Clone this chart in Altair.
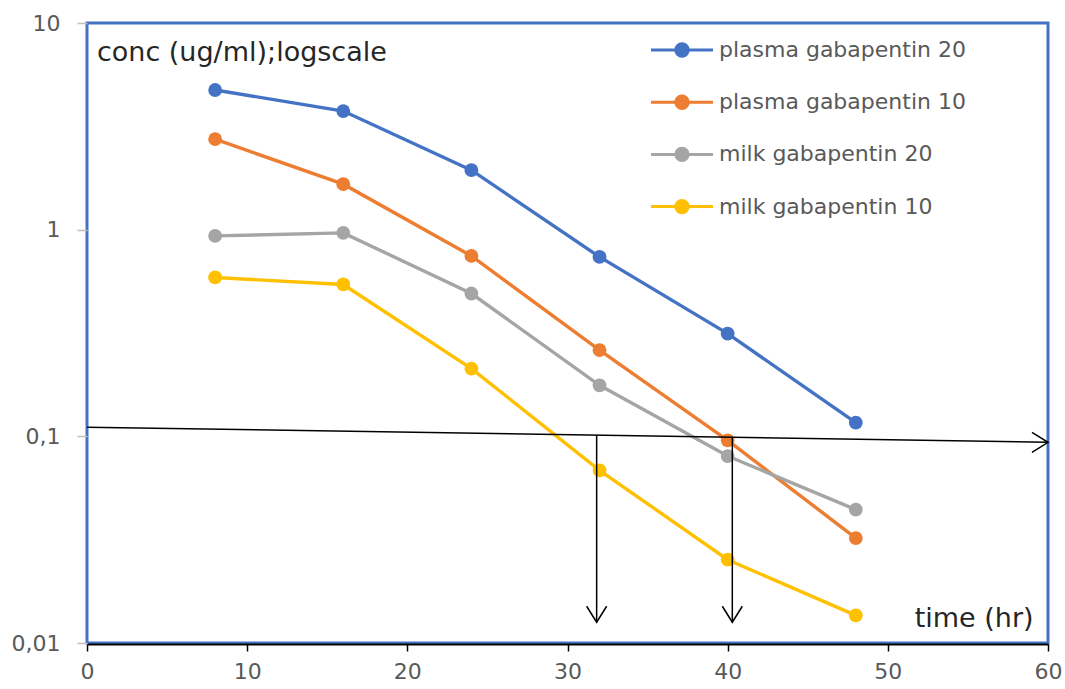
import altair as alt
import pandas as pd

# ---- data ----
hours = [8, 16, 24, 32, 40, 48]
series_names = ["plasma gabapentin 20", "plasma gabapentin 10",
                "milk gabapentin 20", "milk gabapentin 10"]
plasma_20 = [4.74, 3.75, 1.94, 0.738, 0.314, 0.1165]
plasma_10 = [2.74, 1.66, 0.746, 0.261, 0.0956, 0.0322]
milk_20 = [0.933, 0.965, 0.491, 0.1766, 0.0803, 0.0442]
milk_10 = [0.587, 0.543, 0.2128, 0.0685, 0.0253, 0.0136]
series_colors = ["#4472C4", "#ED7D31", "#A5A5A5", "#FFC000"]

x_ticks = [0, 10, 20, 30, 40, 50, 60]
y_ticks = [0.01, 0.1, 1, 10]
y_tick_labels = ["0,01", "0,1", "1", "10"]

# hand-drawn annotation arrows (data coordinates)
arrow_x = [0, 31.82, 40.29]
arrow_x2 = [60, 31.82, 40.29]
arrow_y = [0.1107, 0.1012, 0.0994]
arrow_y2 = [0.0936, 0.0126, 0.0126]
arrow_dir = ["right", "down", "down"]

note_texts = ["conc (ug/ml);logscale", "time (hr)"]
note_x = [0.62, 59.1]
note_y = [6.55, 0.0119]

# ---- tables ----
values = [plasma_20, plasma_10, milk_20, milk_10]
rows = []
for name, vals in zip(series_names, values):
    for t, v in zip(hours, vals):
        rows.append({"time": t, "series": name, "conc": v})
df = pd.DataFrame(rows)

arrows = pd.DataFrame({"x": arrow_x, "x2": arrow_x2, "y": arrow_y,
                       "y2": arrow_y2, "dir": arrow_dir})
notes_left = pd.DataFrame({"x": note_x[:1], "y": note_y[:1], "t": note_texts[:1]})
notes_right = pd.DataFrame({"x": note_x[1:], "y": note_y[1:], "t": note_texts[1:]})

label_expr = ""
for v, lab in zip(y_ticks, y_tick_labels):
    label_expr += f"abs(datum.value - {v}) < {v}*0.001 ? '{lab}' : "
label_expr += "''"

xscale = alt.Scale(domain=[0, 60], nice=False, zero=False)
yscale = alt.Scale(type="log", domain=[0.01, 10], nice=False)

xaxis = alt.Axis(values=x_ticks, grid=False, labelFontSize=22, labelColor="#595959",
                 domainColor="black", domainWidth=2, tickColor="black", tickWidth=1.5,
                 tickSize=7, labelPadding=10, offset=1, labelFlush=False)
yaxis = alt.Axis(values=y_ticks, grid=False, labelExpr=label_expr, labelFontSize=22,
                 labelColor="#595959", domain=False, tickColor="#BFBFBF", tickWidth=1.5,
                 tickSize=10, labelPadding=17, labelFlush=False)

legend_path = ("M-2,0L2,0M-0.4,0A0.4,0.4,0,1,0,0.4,0"
               "A0.4,0.4,0,1,0,-0.4,0Z")

color = alt.Color(
    "series:N",
    scale=alt.Scale(domain=series_names, range=series_colors),
    legend=alt.Legend(
        title=None, orient="none", legendX=578, legendY=10, padding=0,
        symbolType=legend_path, symbolSize=961, symbolStrokeWidth=3,
        symbolOpacity=1,
        labelFontSize=22, labelColor="#595959", labelOffset=20,
        rowPadding=22.2, labelLimit=400,
    ),
)

base = alt.Chart(df).encode(
    x=alt.X("time:Q", scale=xscale, axis=xaxis, title=None),
    y=alt.Y("conc:Q", scale=yscale, axis=yaxis, title=None),
    color=color,
)
lines = base.mark_line(strokeWidth=3.4)
points = base.mark_circle(size=190, opacity=1)

arrow_lines = alt.Chart(arrows).mark_rule(color="black", strokeWidth=1.5).encode(
    x=alt.X("x:Q", scale=xscale, axis=xaxis, title=None),
    x2="x2:Q",
    y=alt.Y("y:Q", scale=yscale, axis=yaxis, title=None),
    y2="y2:Q",
)
arrow_heads = alt.Chart(arrows).mark_point(
    filled=False, size=400, color="black", strokeWidth=1.5, opacity=1
).encode(
    x=alt.X("x2:Q", scale=xscale, axis=xaxis, title=None),
    y=alt.Y("y2:Q", scale=yscale, axis=yaxis, title=None),
    shape=alt.Shape("dir:N", legend=None, scale=alt.Scale(
        domain=["right", "down"],
        range=["M-1.6,-1L0,0L-1.6,1", "M-1,-1.6L0,0L1,-1.6"])),
)

text_left = alt.Chart(notes_left).mark_text(
    align="left", baseline="alphabetic", fontSize=27, color="#262626",
    font="DejaVu Sans"
).encode(
    x=alt.X("x:Q", scale=xscale, axis=xaxis, title=None),
    y=alt.Y("y:Q", scale=yscale, axis=yaxis, title=None),
    text="t:N",
)
text_right = alt.Chart(notes_right).mark_text(
    align="right", baseline="alphabetic", fontSize=27, color="#262626",
    font="DejaVu Sans"
).encode(
    x=alt.X("x:Q", scale=xscale, axis=xaxis, title=None),
    y=alt.Y("y:Q", scale=yscale, axis=yaxis, title=None),
    text="t:N",
)

chart = alt.layer(lines, points, arrow_lines, arrow_heads, text_left, text_right).properties(
    width=961, height=620,
    autosize=alt.AutoSizeParams(type="none"),
    padding={"left": 87, "top": 23, "right": 17, "bottom": 46},
    background="white",
).configure(
    font="DejaVu Sans",
    view=alt.ViewConfig(stroke="#4472C4", strokeWidth=3),
)

chart.save("out.html", embed_options={"renderer": "svg", "actions": False})
